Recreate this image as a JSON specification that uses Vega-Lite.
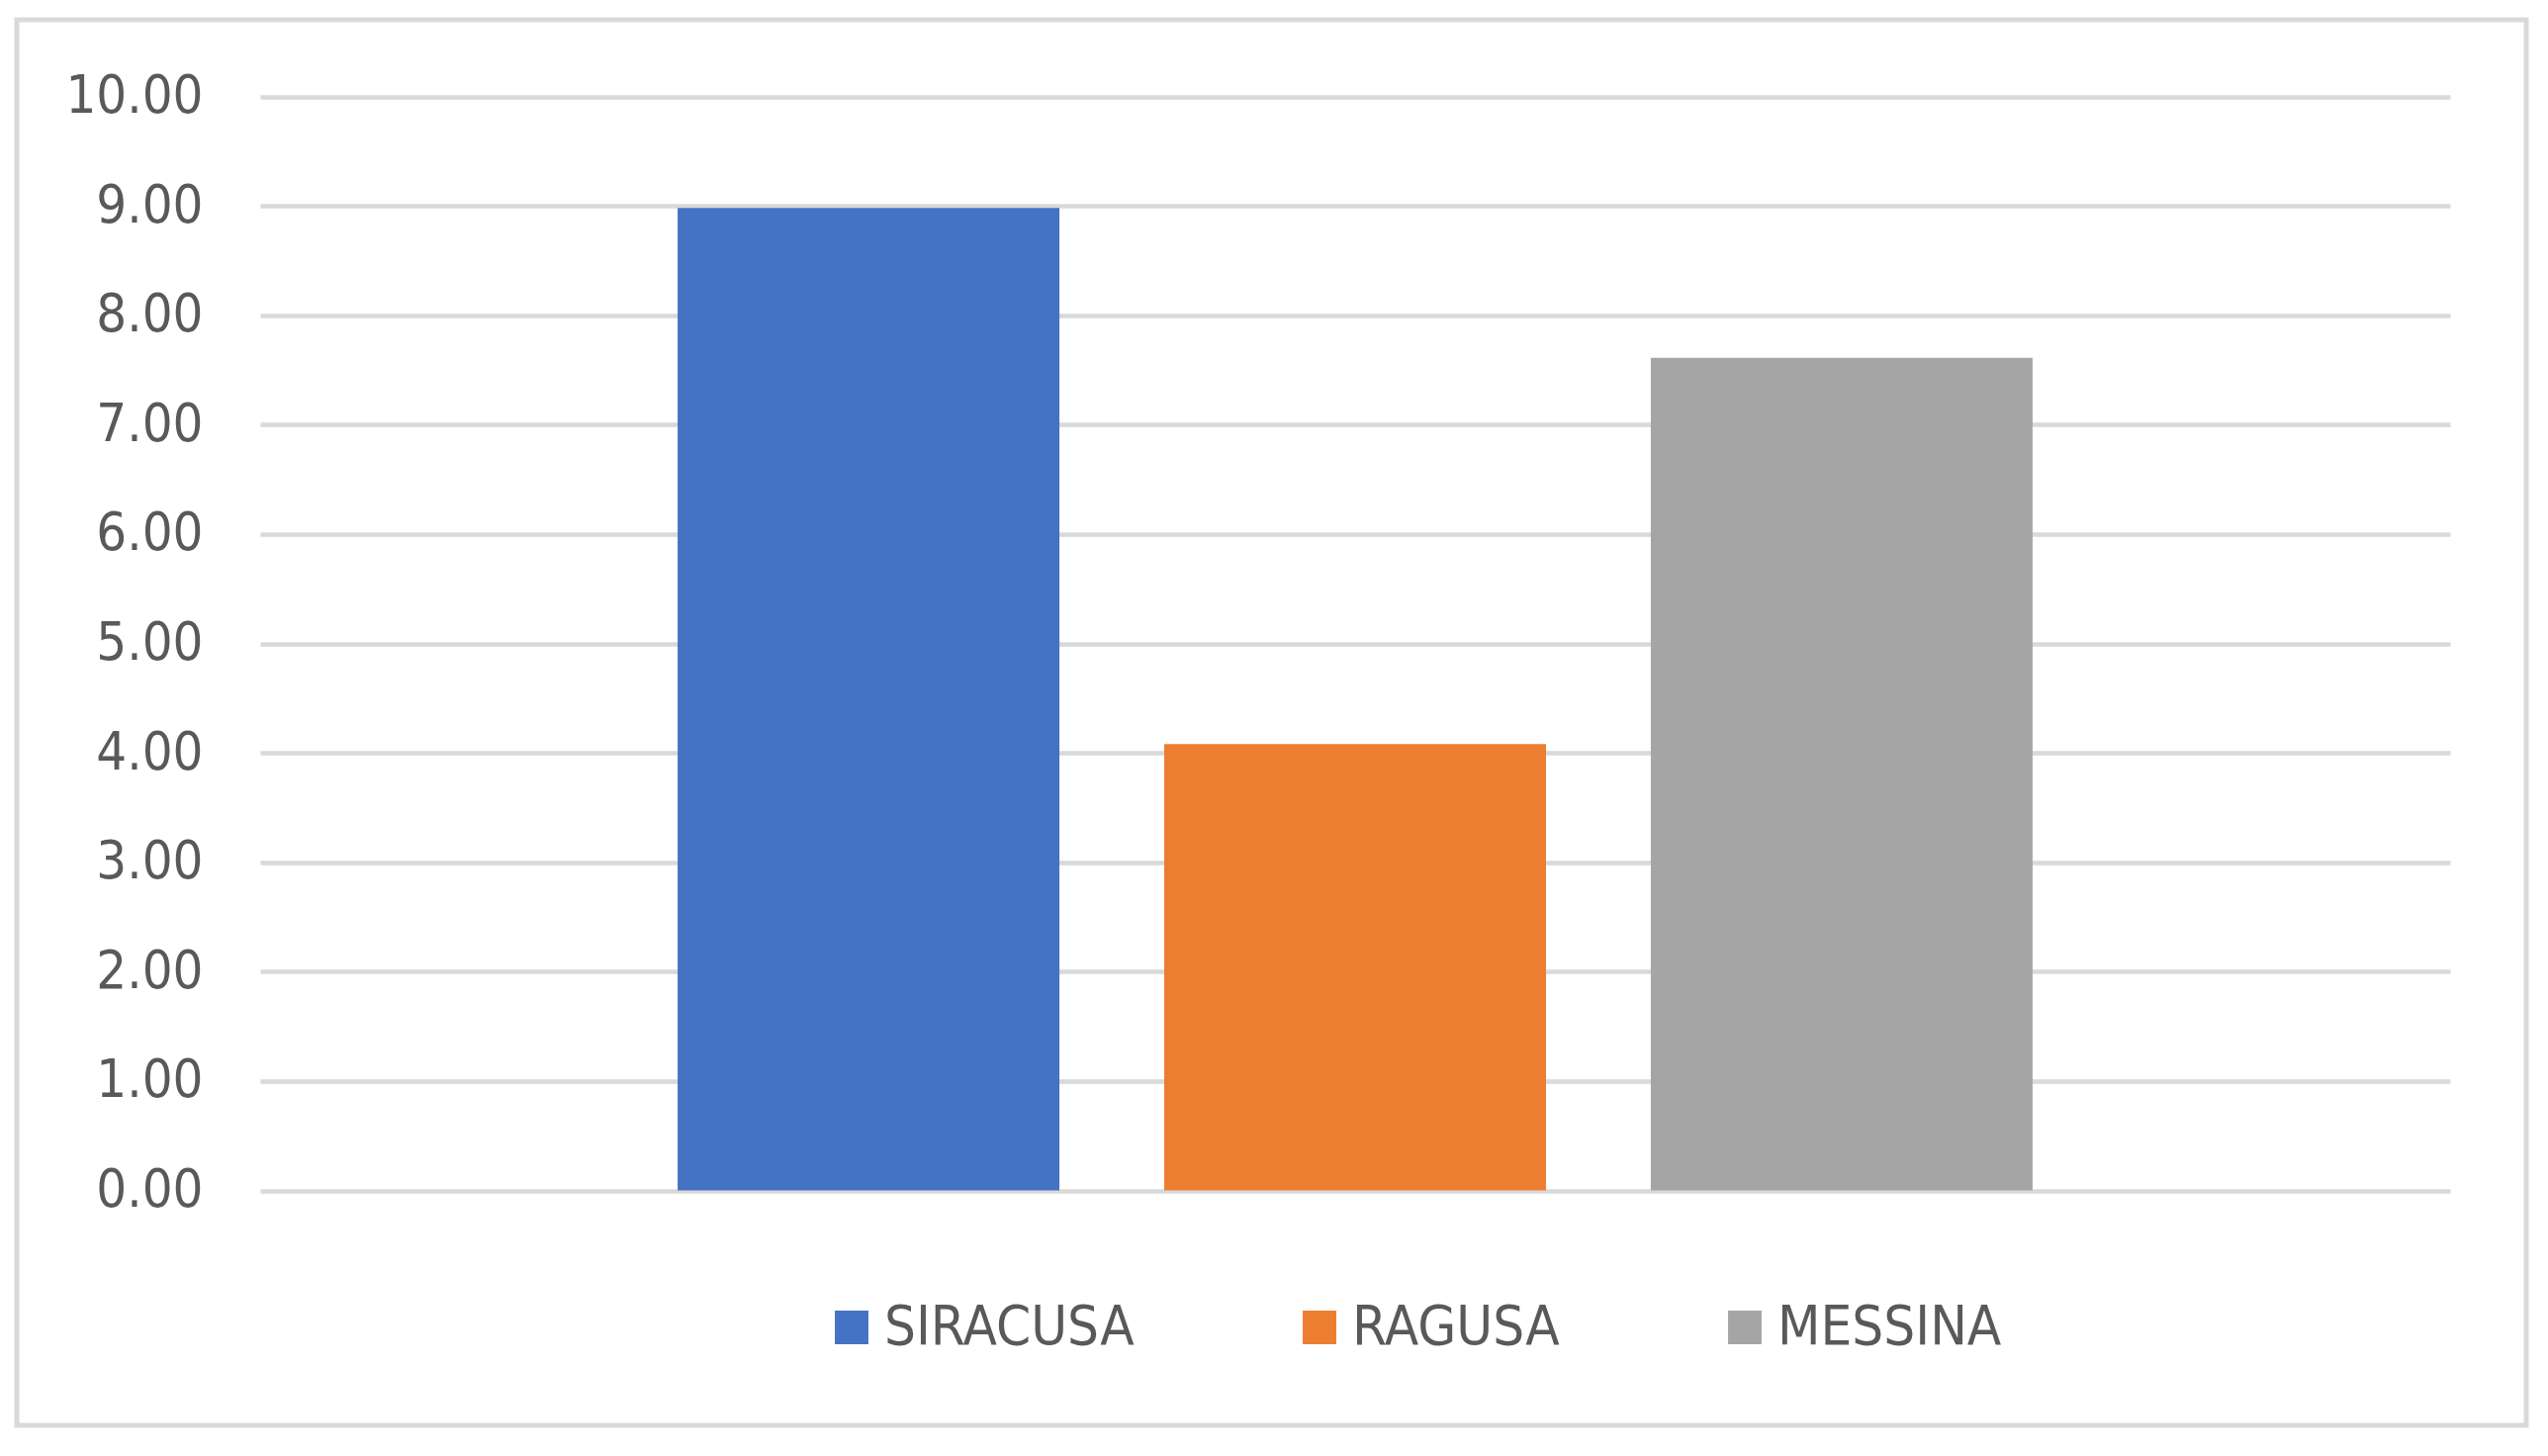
{
  "$schema": "https://vega.github.io/schema/vega-lite/v6.json",
  "autosize": "none",
  "width": 2537,
  "height": 1421,
  "padding": {"left": 17, "top": 20, "right": 22, "bottom": 31},
  "background": "white",
  "config": {
    "view": {"stroke": "#d9d9d9", "strokeWidth": 5},
    "font": "DejaVu Sans Condensed"
  },
  "data": {
    "values": [
      {"provincia": "SIRACUSA", "valore": 8.98},
      {"provincia": "RAGUSA", "valore": 4.08},
      {"provincia": "MESSINA", "valore": 7.61}
    ]
  },
  "mark": {"type": "bar"},
  "encoding": {
    "x": {
      "field": "provincia",
      "type": "nominal",
      "sort": ["SIRACUSA", "RAGUSA", "MESSINA"],
      "scale": {"range": [246, 2460], "paddingInner": 0.2154, "paddingOuter": 0.858},
      "axis": null
    },
    "y": {
      "field": "valore",
      "type": "quantitative",
      "scale": {"domain": [0, 10], "nice": false, "range": [1183.5, 77.5]},
      "axis": {
        "title": null,
        "values": [0, 1, 2, 3, 4, 5, 6, 7, 8, 9, 10],
        "format": ".2f",
        "domain": false,
        "ticks": false,
        "tickSize": 0,
        "offset": -246,
        "labelPadding": 58,
        "labelFont": "DejaVu Sans Condensed",
        "labelFontSize": 54,
        "labelColor": "#595959",
        "grid": true,
        "gridColor": "#d9d9d9",
        "gridWidth": 4.5
      }
    },
    "color": {
      "field": "provincia",
      "type": "nominal",
      "sort": ["SIRACUSA", "RAGUSA", "MESSINA"],
      "scale": {"domain": ["SIRACUSA", "RAGUSA", "MESSINA"], "range": ["#4472C4", "#ED7D31", "#A5A5A5"]},
      "legend": {
        "title": null,
        "orient": "none",
        "direction": "horizontal",
        "legendX": 816,
        "legendY": 1294,
        "padding": 0,
        "symbolType": "square",
        "symbolSize": 1150,
        "symbolStrokeWidth": 0,
        "labelFont": "DejaVu Sans Condensed",
        "labelFontSize": 56,
        "labelColor": "#595959",
        "labelOffset": 5,
        "columnPadding": 159,
        "gridAlign": "none",
        "labelLimit": 0
      }
    }
  }
}
